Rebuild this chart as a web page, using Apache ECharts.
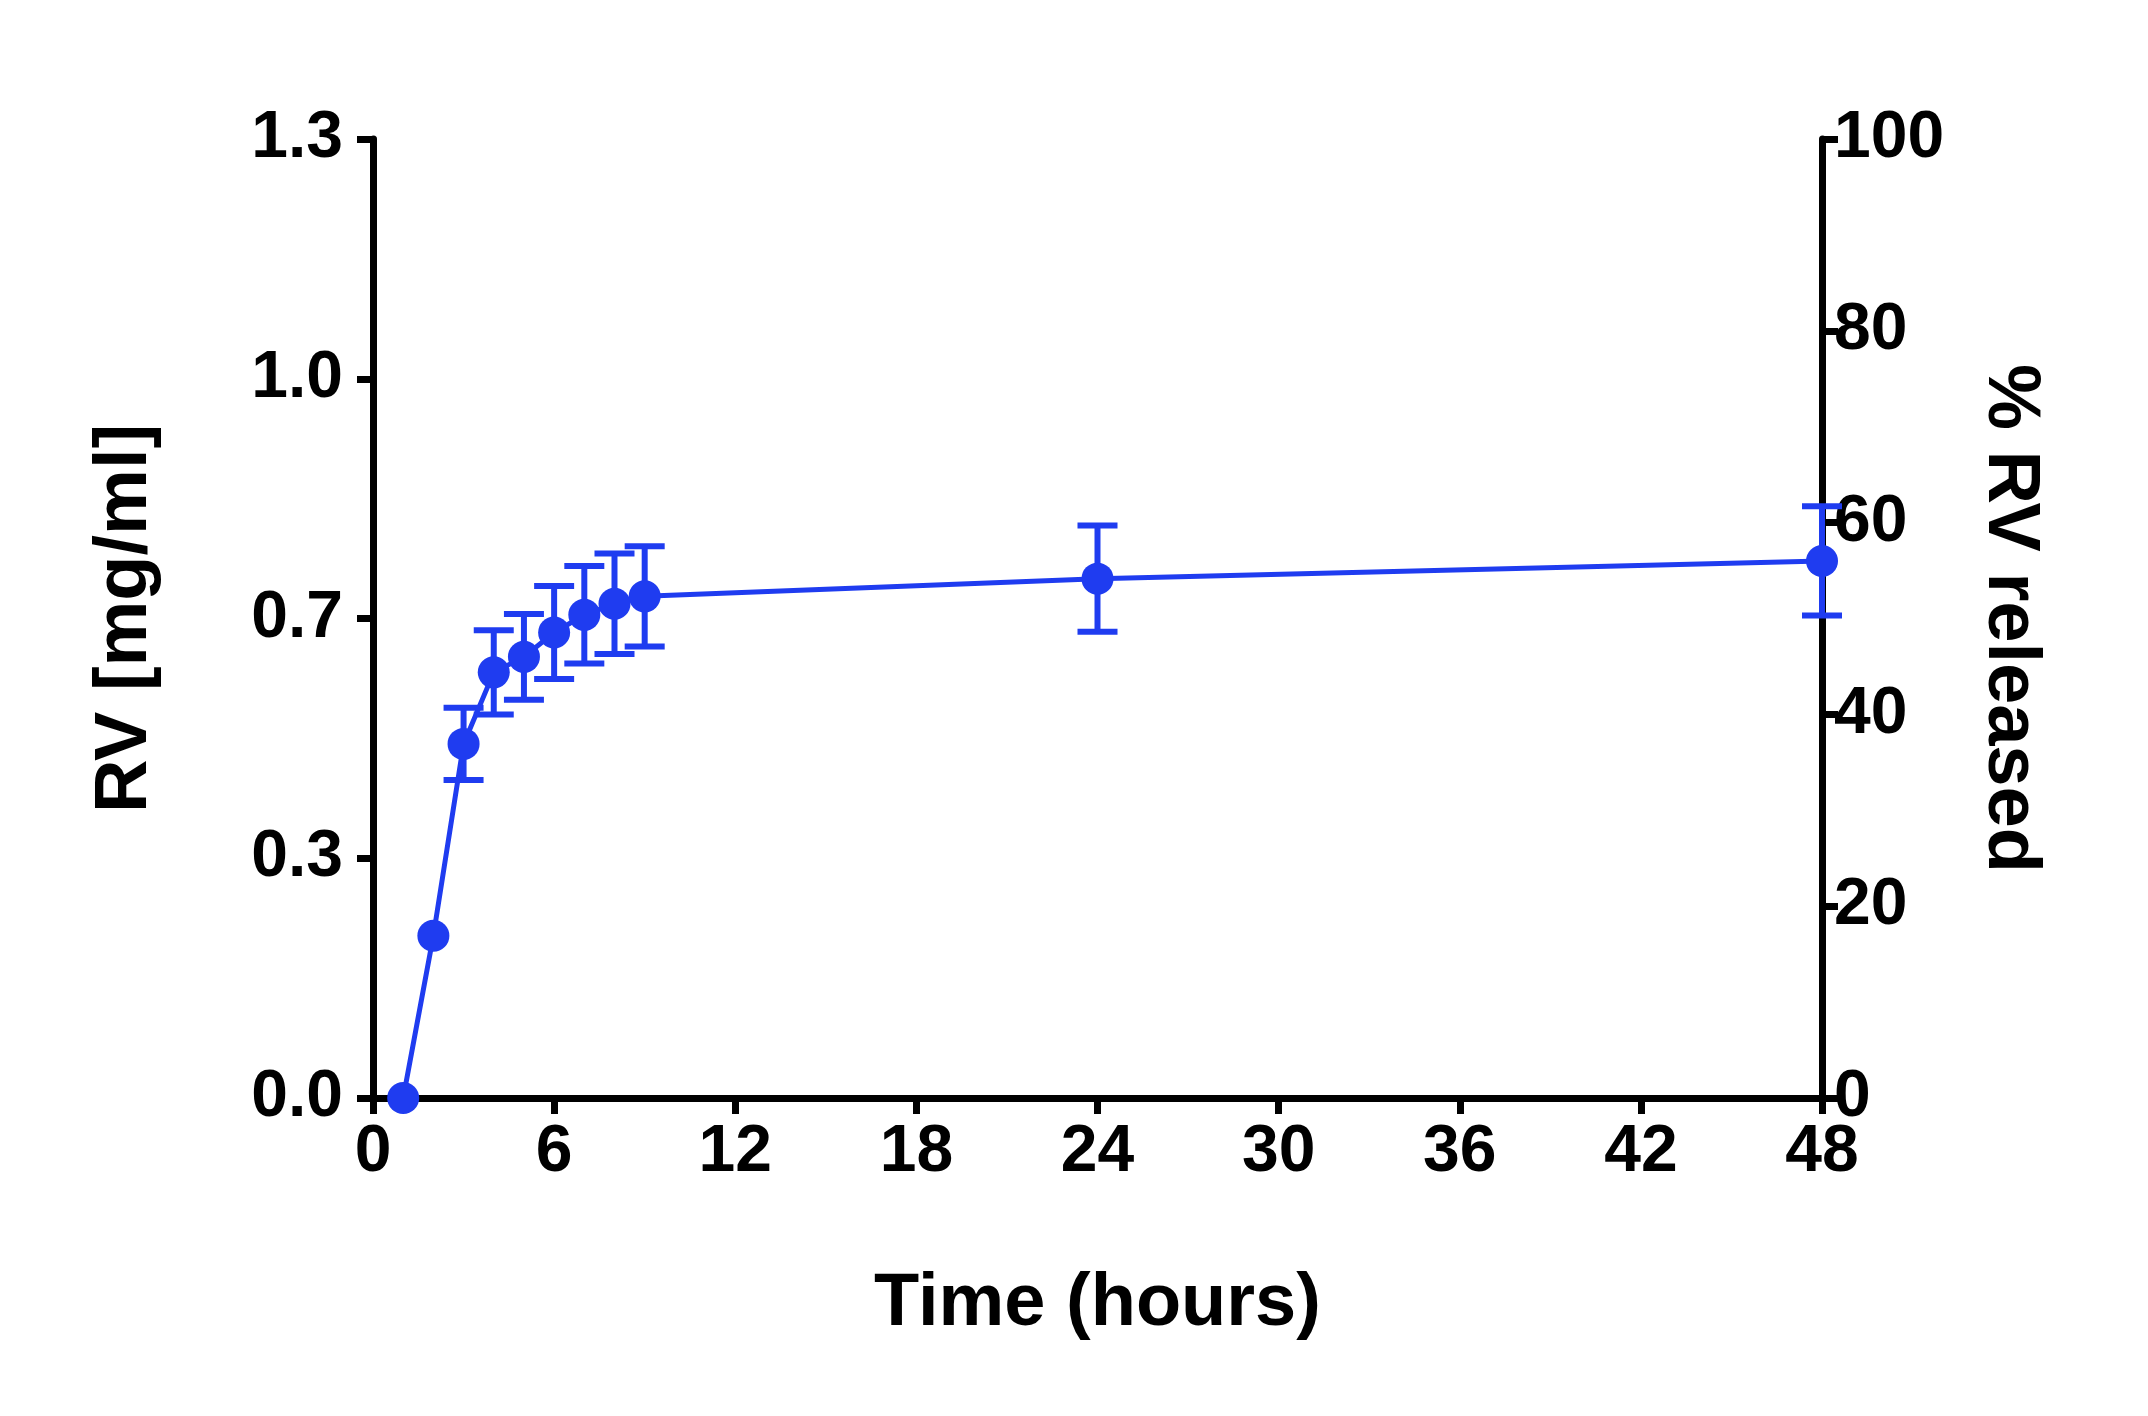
<!DOCTYPE html>
<html><head><meta charset="utf-8">
<script src="https://cdn.jsdelivr.net/npm/echarts@6/dist/echarts.min.js"></script>
<style>html,body{margin:0;padding:0;background:#fff}#c{width:2148px;height:1416px}</style>
</head><body><div id="c"></div>
<script>
const hours = [1, 2, 3, 4, 5, 6, 7, 8, 9, 24, 48];
const rv = [0, 0.220, 0.480, 0.577, 0.598, 0.631, 0.655, 0.670, 0.680, 0.704, 0.728];
const rvErr = [0, 0, 0.049, 0.057, 0.058, 0.063, 0.066, 0.068, 0.068, 0.072, 0.074];
const leftTickLabels = ['0.0', '0.3', '0.7', '1.0', '1.3'];
const BLUE = '#1f3cf0';
const FONT = '"Liberation Sans", Arial, sans-serif';
const chart = echarts.init(document.getElementById('c'));
const axisCommon = {
  axisLine: {show: true, lineStyle: {color: '#000', width: 7}},
  axisTick: {show: true, length: 16, lineStyle: {color: '#000', width: 7}},
  splitLine: {show: false},
  axisLabel: {color: '#000', fontFamily: FONT, fontWeight: 'bold', fontSize: 66},
  nameTextStyle: {color: '#000', fontFamily: FONT, fontWeight: 'bold', fontSize: 74}
};
chart.setOption({
  animation: false,
  grid: {left: 373, right: 326, top: 139, bottom: 318},
  xAxis: Object.assign({}, axisCommon, {
    type: 'value', min: 0, max: 48, interval: 6,
    name: 'Time (hours)', nameLocation: 'middle', nameGap: 170,
    axisLabel: Object.assign({}, axisCommon.axisLabel, {margin: 22})
  }),
  yAxis: [
    Object.assign({}, axisCommon, {
      type: 'value', min: 0, max: 1.3, interval: 0.325, position: 'left',
      name: 'RV [mg/ml]', nameLocation: 'middle', nameGap: 210,
      axisLabel: Object.assign({}, axisCommon.axisLabel, {margin: 30,
        formatter: v => leftTickLabels[Math.round(v / 0.325)]})
    }),
    Object.assign({}, axisCommon, {
      type: 'value', min: 0, max: 100, interval: 20, position: 'right',
      name: '% RV released', nameLocation: 'middle', nameGap: 150, nameRotate: -90,
      axisLabel: Object.assign({}, axisCommon.axisLabel, {margin: 12})
    })
  ],
  series: [
    {
      type: 'custom', yAxisIndex: 0, z: 3,
      data: hours.map((h, i) => [h, rv[i] - rvErr[i], rv[i] + rvErr[i]]),
      renderItem: (params, api) => {
        if (api.value(2) - api.value(1) <= 0) return null;
        const lo = api.coord([api.value(0), api.value(1)]);
        const hi = api.coord([api.value(0), api.value(2)]);
        const w = 20;
        const st = {stroke: BLUE, lineWidth: 6};
        return {type: 'group', children: [
          {type: 'line', shape: {x1: lo[0], y1: lo[1], x2: hi[0], y2: hi[1]}, style: st},
          {type: 'line', shape: {x1: lo[0] - w, y1: lo[1], x2: lo[0] + w, y2: lo[1]}, style: st},
          {type: 'line', shape: {x1: hi[0] - w, y1: hi[1], x2: hi[0] + w, y2: hi[1]}, style: st}
        ]};
      }
    },
    {
      type: 'line', yAxisIndex: 0, z: 4,
      data: hours.map((h, i) => [h, rv[i]]),
      symbol: 'circle', symbolSize: 32,
      lineStyle: {color: BLUE, width: 5},
      itemStyle: {color: BLUE}
    }
  ]
});
</script></body></html>
